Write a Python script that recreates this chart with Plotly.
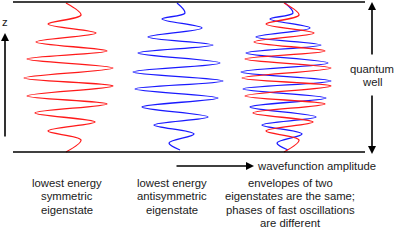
import plotly.graph_objects as go

# Read-off turning points of the curves (z position, amplitude offset from panel centre)
sym_z = [3, 15, 24, 33, 42, 51, 59, 68, 78, 86, 96, 104, 113, 122, 131, 140, 152]
sym_amp = [-2, 13, -20, 28, -32, 39, -41, 45, -44, 45, -41, 39, -33, 27, -20, 13, -2]
anti_z = [3, 13, 19, 28, 37, 45, 53, 63, 72, 81, 89, 98, 107, 117, 125, 134, 143, 150]
anti_amp = [-1, 7, -16, 24, -30, 35, -40, 42, -45, 45, -43, 40, -36, 30, -24, 16, -9, 2]

panel_centres = [68, 178, 286]
labels = [
    ["lowest energy", "symmetric", "eigenstate"],
    ["lowest energy", "antisymmetric", "eigenstate"],
    ["envelopes of two", "eigenstates are the same;", "phases of fast oscillations", "are different"],
]
label_x = [67, 172, 290]
RED = "#ff1a1a"
BLUE = "#1a1aff"

fig = go.Figure()

def add_curve(z, amp, centre, color):
    fig.add_trace(go.Scatter(
        x=[centre + a for a in amp], y=z, mode="lines",
        line=dict(color=color, width=1.3, shape="spline", smoothing=1.0),
        hoverinfo="skip", showlegend=False))

add_curve(sym_z, sym_amp, panel_centres[0], RED)
add_curve(anti_z, anti_amp, panel_centres[1], BLUE)
add_curve(anti_z, anti_amp, panel_centres[2], BLUE)
add_curve(sym_z, sym_amp, panel_centres[2], RED)

# well boundaries
for yv in (2, 152):
    fig.add_shape(type="line", x0=13, x1=365, y0=yv, y1=yv,
                  line=dict(color="black", width=1.5))

font = dict(family="Liberation Sans, Arial, sans-serif", size=11.3, color="#1a1a1a")

def arrow(x0, y0, x1, y1):
    fig.add_annotation(x=x1, y=y1, ax=x0, ay=y0, xref="x", yref="y",
                       axref="x", ayref="y", text="", showarrow=True,
                       arrowhead=2, arrowsize=1, arrowwidth=1.6, arrowcolor="black")

arrow(5, 138, 5, 33)       # z axis
arrow(372, 56, 372, 2)     # well up
arrow(372, 94, 372, 154)   # well down
arrow(175, 166, 254, 166)  # amplitude

def text(x, y, s, anchor="center"):
    fig.add_annotation(x=x, y=y, text=s, showarrow=False, font=font,
                       xanchor=anchor, yanchor="middle")

text(5, 22, "z")
text(372, 69, "quantum")
text(372, 82, "well")
text(255, 166, "wavefunction amplitude", "left")
for c, lines in zip(label_x, labels):
    for i, s in enumerate(lines):
        text(c, 183 + 13.4 * i, s)

fig.update_layout(
    width=399, height=247, margin=dict(l=0, r=0, t=0, b=0),
    paper_bgcolor="white", plot_bgcolor="white",
    xaxis=dict(range=[0, 399], visible=False, fixedrange=True),
    yaxis=dict(range=[247, 0], visible=False, fixedrange=True),
)
fig.write_html("out.html", config={"displayModeBar": False},
               post_script="document.body.style.margin='0';document.body.style.overflow='hidden';")
